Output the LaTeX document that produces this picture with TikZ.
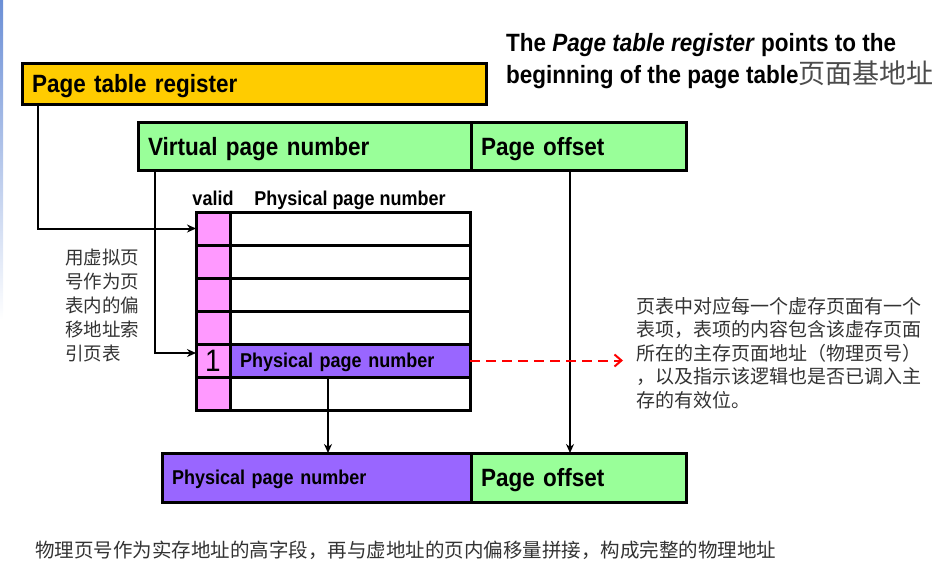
\documentclass[tikz,border=0pt]{standalone}
\usepackage{fontspec}
\setmainfont[FakeStretch=0.9]{Liberation Sans}
\newfontfamily\cjk{Noto Sans CJK SC}
\usetikzlibrary{
		positioning,
		arrows.meta
	}
\definecolor{regyellow}{HTML}{FFCC00}
\definecolor{fieldgreen}{HTML}{99FF99}
\definecolor{validpink}{HTML}{FF99FF}
\definecolor{ppnpurple}{HTML}{9966FF}
\definecolor{slideblue}{HTML}{6B8FD6}
\definecolor{notegray}{HTML}{333333}
\tikzset{
		>={Stealth[length=9pt,width=8pt]}
	}
\tikzset{
	field/.style={draw, line width=3pt, anchor=north west, outer sep=0pt, inner xsep=10pt, inner ysep=0pt, align=left, text height=18pt, text depth=0pt, font=\bfseries\fontsize{25}{28}\selectfont},
	cell/.style={draw, line width=3pt, anchor=north west, outer sep=0pt, inner sep=0pt, minimum height=33pt},
	hdr/.style={font=\bfseries\fontsize{20}{22}\selectfont, inner sep=1pt, text height=15pt, text depth=2pt},
	cjknote/.style={font=\cjk\fontsize{18.5}{24}\selectfont, text=notegray, align=left, anchor=north west, inner sep=0pt},
	link/.style={->, line width=2pt}
}
\begin{document}
\begin{tikzpicture}[x=1pt, y=-1pt] % one unit = one pixel of the slide
	\useasboundingbox (0,0) rectangle (944,565);
	\shade[top color=slideblue, bottom color=white] (0,0) rectangle (3,320);
	% registers and address fields
	\node[field, fill=regyellow, text width=444pt, minimum height=41pt] (ptr) at (22,63) {Page table register};
	\node[field, fill=fieldgreen, text width=313pt, minimum height=48pt] (vpn) at (138,122) {Virtual page number};
	\node[field, fill=fieldgreen, text width=195pt, minimum height=48pt] (off) at (vpn.north east) {Page offset};
	\node[field, fill=ppnpurple, text width=289pt, minimum height=49pt, text height=14.5pt, font=\bfseries\fontsize{20}{22}\selectfont] (phys) at (162,453) {Physical page number};
	\node[field, fill=fieldgreen, text width=195pt, minimum height=49pt] (poff) at (phys.north east) {Page offset};
	% the page table
	\foreach \i in {0,1,2,3,5}{
		\node[cell, fill=validpink, minimum width=34pt] (v\i) at (196,{212+33*\i}) {};
		\node[cell, minimum width=240pt] (p\i) at (230,{212+33*\i}) {};
	}
	\node[cell, fill=validpink, minimum width=34pt, text height=22pt, text depth=0pt, font=\fontsize{31}{32}\selectfont] (v4) at (196,344) {1};
	\node[cell, fill=ppnpurple, minimum width=240pt, inner xsep=10pt, text width=220pt, align=left, text height=14.5pt, text depth=0pt, font=\bfseries\fontsize{20}{22}\selectfont] (ppn) at (230,344) {Physical page number};
	\node[hdr, above=3pt of v0] (validlbl) {valid};
	\node[hdr, above=3pt of p0] (ppnlbl) {Physical page number};
	% texts
	\node[anchor=north west, align=left, inner sep=0pt, font=\bfseries\fontsize{25}{32}\selectfont] (title) at (506,33) {The \textit{Page table register} points to the\\beginning of the page table{\cjk\mdseries\fontsize{27}{32}\selectfont\color{gray!60!black}页面基地址}};
	\node[cjknote] (hint) at (65,249) {用虚拟页\\号作为页\\表内的偏\\移地址索\\引页表};
	\node[cjknote, font=\cjk\fontsize{19}{23.5}\selectfont] (note) at (636,297) {页表中对应每一个虚存页面有一个\\表项，表项的内容包含该虚存页面\\所在的主存页面地址（物理页号）\\，以及指示该逻辑也是否已调入主\\存的有效位。};
	\node[cjknote, anchor=west, font=\cjk\fontsize{19.5}{22}\selectfont] (summary) at (35,550) {物理页号作为实存地址的高字段，再与虚地址的页内偏移量拼接，构成完整的物理地址};
	% connectors
	\draw[link] ([xshift=16pt]ptr.south west) |- (v0.west);
	\draw[link] ([xshift=17pt]vpn.south west) |- ([yshift=7.5pt]v4.west);
	\coordinate (pdrop) at ([xshift=-22pt]ppn.south);
	\draw[link] (pdrop) -- (pdrop |- phys.north);
	\coordinate (odrop) at ([xshift=-8.5pt]off.south);
	\draw[link] (odrop) -- (odrop |- poff.north);
	\draw[red, line width=2pt, dash pattern=on 10pt off 6pt, -{Straight Barb[length=7pt,width=12pt]}, shorten >=13pt] (ppn.east) -- (ppn.east -| note.west);
\end{tikzpicture}
\end{document}
